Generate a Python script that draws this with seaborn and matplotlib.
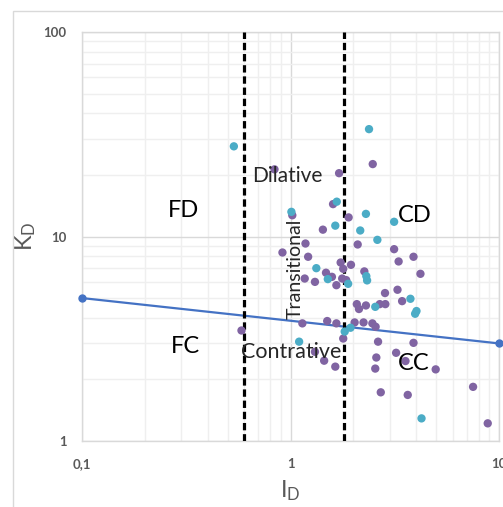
import numpy as np
import pandas as pd
import matplotlib
matplotlib.use('Agg')
import matplotlib.pyplot as plt
import matplotlib.patches as patches
from matplotlib.ticker import FixedLocator, FixedFormatter, NullFormatter, LogLocator
import seaborn as sns

# ----------------------------------------------------------------------------
# DATA
# ----------------------------------------------------------------------------
teal_id = [0.535, 2.38, 1.01, 1.667, 1.64, 2.30, 3.14, 2.16, 2.61, 1.33, 1.51,
           1.89, 2.31, 2.33, 3.76, 2.55, 4.02, 3.96, 1.94, 1.82, 1.10, 4.25]
teal_kd = [27.6, 33.5, 13.2, 14.8, 11.3, 12.9, 11.8, 10.7, 9.63, 7.0, 6.19,
           5.87, 6.40, 6.10, 4.96, 4.53, 4.32, 4.19, 3.58, 3.43, 3.06, 1.29]

purple_id = [0.838, 1.71, 2.48, 1.60, 1.02, 1.90, 1.43, 2.10, 1.18, 0.915,
             1.215, 3.14, 3.89, 3.30, 1.74, 1.95, 1.79, 2.26, 4.20, 1.48,
             1.58, 1.17, 1.31, 1.77, 1.85, 1.66, 3.26, 2.84, 3.43, 2.08,
             2.13, 2.30, 2.68, 2.85, 2.03, 2.24, 2.47, 2.56, 1.50, 1.66,
             1.14, 0.582, 1.79, 2.63, 3.89, 1.31, 3.21, 2.58, 1.45, 3.56,
             1.64, 2.55, 4.97, 2.71, 3.65, 7.51, 8.83]
purple_kd = [21.3, 20.4, 22.6, 14.4, 12.7, 12.4, 10.8, 9.14, 9.24, 8.35,
             7.96, 8.67, 7.96, 7.55, 7.46, 7.27, 6.95, 6.75, 6.57, 6.65,
             6.35, 6.23, 6.00, 6.23, 6.12, 5.78, 5.49, 5.29, 4.83, 4.67,
             4.42, 4.60, 4.67, 4.67, 3.80, 3.80, 3.76, 3.62, 3.86, 3.76,
             3.76, 3.47, 3.17, 3.06, 3.02, 2.73, 2.70, 2.56, 2.47, 2.46,
             2.31, 2.26, 2.24, 1.73, 1.68, 1.84, 1.22]

# boundary line between dilative and contractive
boundary_id = [0.1, 10]
boundary_kd = [5, 3]

# transitional zone limits
id_limits = [0.6, 1.8]

# zone labels: (text, I_D, K_D)
zone_labels = ['FD', 'CD', 'FC', 'CC']
zone_id = [0.306, 3.94, 0.315, 3.90]
zone_kd = [13.35, 12.6, 2.89, 2.40]

df = pd.DataFrame({
    'ID': purple_id + teal_id,
    'KD': purple_kd + teal_kd,
    'group': ['purple'] * len(purple_id) + ['teal'] * len(teal_id),
})

# ----------------------------------------------------------------------------
# PLOT
# ----------------------------------------------------------------------------
sns.set_style('white')
plt.rcParams['font.family'] = ['Lato', 'DejaVu Sans']
plt.rcParams['mathtext.fontset'] = 'custom'
plt.rcParams['mathtext.rm'] = 'Lato'

fig = plt.figure(figsize=(5.03, 5.07), dpi=100)
ax = fig.add_axes([82 / 503, 1 - 441 / 507, 417 / 503, 409 / 507])

# chart area border (Excel style)
fig.patches.append(patches.Rectangle((13 / 503, -0.1), 1.2, 1 - 11 / 507 + 0.1,
                                     transform=fig.transFigure, fill=False,
                                     ec='#d9d9d9', lw=1.0, zorder=0))

ax.set_xscale('log')
ax.set_yscale('log')
ax.set_xlim(0.1, 10)
ax.set_ylim(1, 100)

# grid
ax.xaxis.set_minor_locator(LogLocator(base=10, subs=np.arange(2, 10)))
ax.yaxis.set_minor_locator(LogLocator(base=10, subs=np.arange(2, 10)))
ax.grid(which='major', color='#d9d9d9', lw=1.0, zorder=0)
ax.grid(which='minor', color='#efefef', lw=1.0, zorder=0)
ax.set_axisbelow(True)

for s in ax.spines.values():
    s.set_color('#d9d9d9')
    s.set_linewidth(1.0)

# boundary line
ax.plot(boundary_id, boundary_kd, color='#4472C4', lw=1.6, marker='o',
        markersize=5, zorder=3, clip_on=False)

# dashed zone limits
for v in id_limits:
    ax.axvline(v, color='black', lw=2.3, ls=(0, (2.3, 1.2)), zorder=4)

sns.scatterplot(data=df, x='ID', y='KD', hue='group',
                palette={'purple': '#8064A2', 'teal': '#4BACC6'},
                s=36, linewidth=0, legend=False, ax=ax, zorder=5, clip_on=False)

# zone text
for t, x, y in zip(zone_labels, zone_id, zone_kd):
    ax.text(x, y, t, fontsize=17, ha='center', va='center', color='black', zorder=6)
ax.text(0.964, 19.8, 'Dilative', fontsize=15, ha='center', va='center', zorder=6)
ax.text(1.004, 2.73, 'Contrative', fontsize=15.5, ha='center', va='center', zorder=6)
ax.text(1.05, 6.98, 'Transitional', fontsize=14, rotation=90,
        ha='center', va='center', zorder=6)

# ticks
ax.xaxis.set_major_locator(FixedLocator([0.1, 1, 10]))
ax.xaxis.set_major_formatter(FixedFormatter(['0,1', '1', '10']))
ax.yaxis.set_major_locator(FixedLocator([1, 10, 100]))
ax.yaxis.set_major_formatter(FixedFormatter(['1', '10', '100']))
ax.xaxis.set_minor_formatter(NullFormatter())
ax.yaxis.set_minor_formatter(NullFormatter())
ax.tick_params(which='both', length=0)
ax.tick_params(axis='x', pad=12, labelsize=9.5, labelcolor='#595959')
ax.tick_params(axis='y', pad=11, labelsize=9.5, labelcolor='#595959')
for lab in ax.get_xticklabels() + ax.get_yticklabels():
    lab.set_fontweight('bold')

ax.set_xlabel(r'$\mathregular{I_D}$', fontsize=17, color='#595959', labelpad=6)
ax.set_ylabel(r'$\mathregular{K_D}$', fontsize=17, color='#595959', labelpad=4)

plt.savefig('out.png', dpi=100)
